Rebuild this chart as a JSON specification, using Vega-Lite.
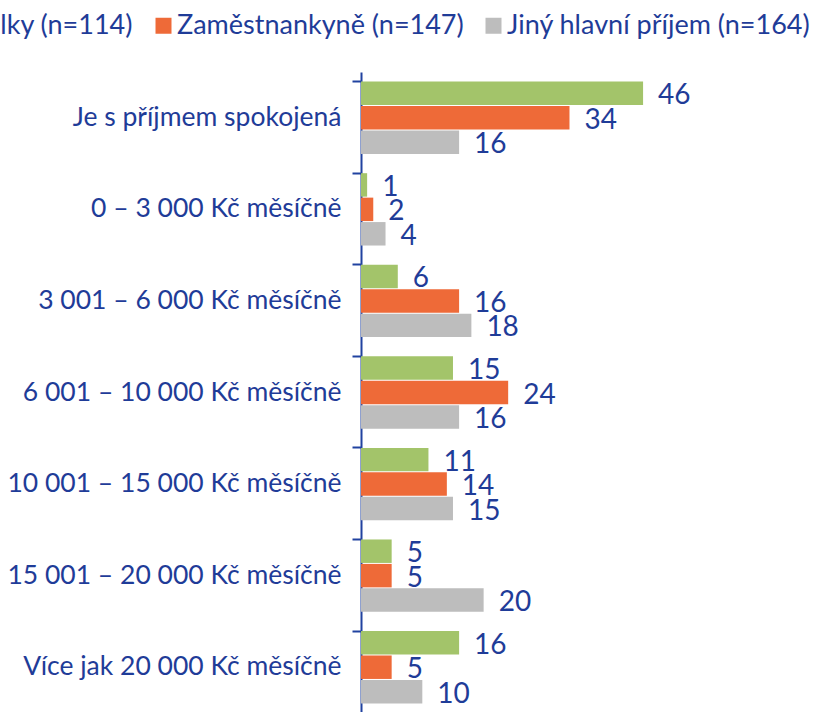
{
  "$schema": "https://vega.github.io/schema/vega-lite/v6.json",
  "autosize": {"type": "none"},
  "padding": {"left": 361, "top": 72, "right": 0, "bottom": 0},
  "width": 455,
  "height": 641,
  "background": "white",
  "config": {"view": {"stroke": null}, "font": "Lato"},
  "data": {"values": [
    {"kat": "Je s příjmem spokojená", "skupina": "Podnikatelky (n=114)", "hodnota": 46},
    {"kat": "Je s příjmem spokojená", "skupina": "Zaměstnankyně (n=147)", "hodnota": 34},
    {"kat": "Je s příjmem spokojená", "skupina": "Jiný hlavní příjem (n=164)", "hodnota": 16},
    {"kat": "0 – 3 000 Kč měsíčně", "skupina": "Podnikatelky (n=114)", "hodnota": 1},
    {"kat": "0 – 3 000 Kč měsíčně", "skupina": "Zaměstnankyně (n=147)", "hodnota": 2},
    {"kat": "0 – 3 000 Kč měsíčně", "skupina": "Jiný hlavní příjem (n=164)", "hodnota": 4},
    {"kat": "3 001 – 6 000 Kč měsíčně", "skupina": "Podnikatelky (n=114)", "hodnota": 6},
    {"kat": "3 001 – 6 000 Kč měsíčně", "skupina": "Zaměstnankyně (n=147)", "hodnota": 16},
    {"kat": "3 001 – 6 000 Kč měsíčně", "skupina": "Jiný hlavní příjem (n=164)", "hodnota": 18},
    {"kat": "6 001 – 10 000 Kč měsíčně", "skupina": "Podnikatelky (n=114)", "hodnota": 15},
    {"kat": "6 001 – 10 000 Kč měsíčně", "skupina": "Zaměstnankyně (n=147)", "hodnota": 24},
    {"kat": "6 001 – 10 000 Kč měsíčně", "skupina": "Jiný hlavní příjem (n=164)", "hodnota": 16},
    {"kat": "10 001 – 15 000 Kč měsíčně", "skupina": "Podnikatelky (n=114)", "hodnota": 11},
    {"kat": "10 001 – 15 000 Kč měsíčně", "skupina": "Zaměstnankyně (n=147)", "hodnota": 14},
    {"kat": "10 001 – 15 000 Kč měsíčně", "skupina": "Jiný hlavní příjem (n=164)", "hodnota": 15},
    {"kat": "15 001 – 20 000 Kč měsíčně", "skupina": "Podnikatelky (n=114)", "hodnota": 5},
    {"kat": "15 001 – 20 000 Kč měsíčně", "skupina": "Zaměstnankyně (n=147)", "hodnota": 5},
    {"kat": "15 001 – 20 000 Kč měsíčně", "skupina": "Jiný hlavní příjem (n=164)", "hodnota": 20},
    {"kat": "Více jak 20 000 Kč měsíčně", "skupina": "Podnikatelky (n=114)", "hodnota": 16},
    {"kat": "Více jak 20 000 Kč měsíčně", "skupina": "Zaměstnankyně (n=147)", "hodnota": 5},
    {"kat": "Více jak 20 000 Kč měsíčně", "skupina": "Jiný hlavní příjem (n=164)", "hodnota": 10}
  ]},
  "encoding": {
    "y": {
      "field": "kat", "type": "nominal", "sort": null,
      "scale": {"paddingInner": 0.21, "paddingOuter": 0.105},
      "axis": {
        "title": null, "bandPosition": 0, "domainColor": "#2142A0", "domainWidth": 2,
        "tickColor": "#2142A0", "tickWidth": 2, "tickSize": 9, "labelPadding": 11,
        "labelFont": "Lato", "labelFontSize": 26.5, "labelColor": "#1F3C98", "labelLimit": 400
      }
    },
    "yOffset": {
      "field": "skupina", "type": "nominal", "sort": null,
      "scale": {"domain": ["Podnikatelky (n=114)", "Zaměstnankyně (n=147)", "Jiný hlavní příjem (n=164)"], "paddingInner": 0.04}
    },
    "x": {
      "field": "hodnota", "type": "quantitative",
      "scale": {"domain": [0, 74.2], "nice": false},
      "axis": null
    }
  },
  "layer": [
    {
      "mark": {"type": "bar"},
      "encoding": {
        "color": {
          "field": "skupina", "type": "nominal", "sort": null,
          "scale": {"domain": ["Podnikatelky (n=114)", "Zaměstnankyně (n=147)", "Jiný hlavní příjem (n=164)"], "range": ["#A3C46A", "#EE6A38", "#BDBDBD"]},
          "legend": {
            "title": null, "orient": "none", "direction": "horizontal",
            "legendX": -506, "legendY": -60,
            "symbolType": "square", "symbolSize": 256, "symbolStrokeWidth": 0,
            "labelFont": "Lato", "labelFontSize": 27, "labelColor": "#1F3C98", "labelLimit": 400,
            "labelOffset": 0, "columnPadding": 16, "padding": 0
          }
        }
      }
    },
    {
      "mark": {"type": "text", "align": "left", "baseline": "middle", "dx": 15, "dy": 3, "font": "Lato", "fontSize": 28, "color": "#1F3C98"},
      "encoding": {"text": {"field": "hodnota", "type": "quantitative"}}
    }
  ]
}
